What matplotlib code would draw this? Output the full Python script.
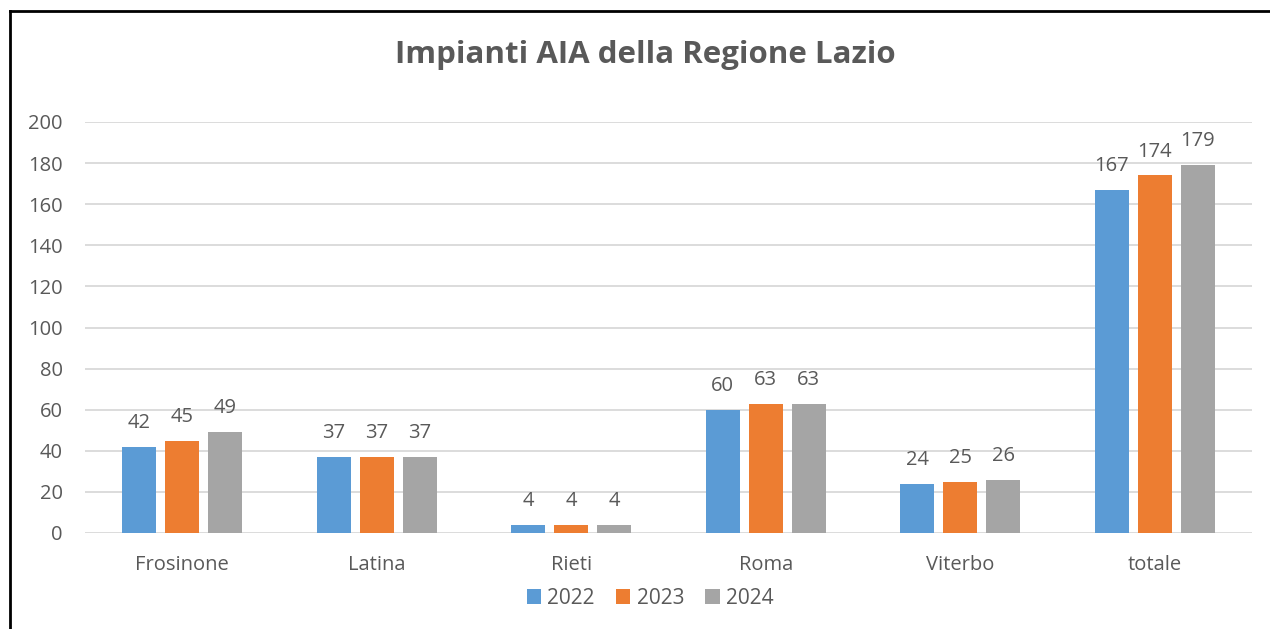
import matplotlib
matplotlib.use("Agg")
import matplotlib.pyplot as plt
from matplotlib.lines import Line2D
import numpy as np

categories = ["Frosinone", "Latina", "Rieti", "Roma", "Viterbo", "totale"]
years = ["2022", "2023", "2024"]
v2022 = [42, 37, 4, 60, 24, 167]
v2023 = [45, 37, 4, 63, 25, 174]
v2024 = [49, 37, 4, 63, 26, 179]
series = [v2022, v2023, v2024]
colors = ["#5B9BD5", "#ED7D31", "#A5A5A5"]
yticks = [0, 20, 40, 60, 80, 100, 120, 140, 160, 180, 200]

plt.rcParams['font.family'] = ['Open Sans', 'DejaVu Sans']
txt = "#595959"

W, H = 1270, 629
fig = plt.figure(figsize=(W / 100, H / 100), dpi=100)
ax = fig.add_axes([85 / W, 1 - 533 / H, (1252 - 85) / W, (533 - 122) / H])

x = np.arange(len(categories))
bw = 0.175
step = 0.221
for i, (vals, c, lab) in enumerate(zip(series, colors, years)):
    pos = x + (i - 1) * step
    bars = ax.bar(pos, vals, width=bw, color=c, label=lab, zorder=3)
    for b, v in zip(bars, vals):
        ax.annotate(str(v), (b.get_x() + b.get_width() / 2, v), xytext=(0, 10),
                    textcoords="offset points", ha="center", va="bottom",
                    fontsize=14.5, color=txt)

ax.set_xlim(-0.5, len(categories) - 0.5)
ax.set_ylim(0, 200)
ax.set_yticks(yticks)
ax.set_xticks(x)
ax.set_xticklabels(categories)
ax.grid(axis="y", color="#D9D9D9", linewidth=1.3, zorder=0)
for s in ax.spines.values():
    s.set_visible(False)
ax.tick_params(axis="both", length=0, labelsize=14.5, labelcolor=txt)
ax.tick_params(axis="y", pad=16)
ax.tick_params(axis="x", pad=15.5)

fig.text(645 / W, 1 - 55 / H, "Impianti AIA della Regione Lazio", ha="center", va="center",
         fontsize=22.5, fontweight="bold", color=txt)

leg = fig.legend(loc="center", bbox_to_anchor=(650 / W, 1 - 598 / H), ncol=3, frameon=False,
                 fontsize=15, handlelength=0.7, handleheight=0.7, handletextpad=0.3,
                 columnspacing=1.0, labelcolor=txt)

fig.add_artist(Line2D([9.5 / W, 9.5 / W], [0, 1 - 10.5 / H], transform=fig.transFigure,
                      color="black", linewidth=2))
fig.add_artist(Line2D([9.5 / W, 1], [1 - 10.5 / H, 1 - 10.5 / H], transform=fig.transFigure,
                      color="black", linewidth=2))

fig.savefig("out.png", dpi=100)
